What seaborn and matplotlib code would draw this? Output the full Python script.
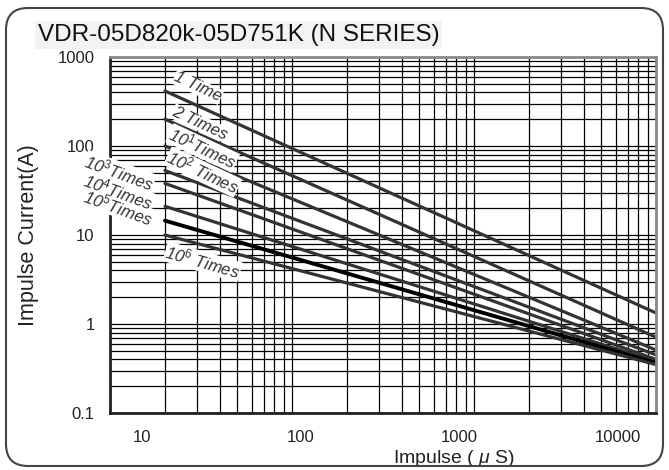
import matplotlib
matplotlib.use("Agg")
import matplotlib.pyplot as plt
import matplotlib.ticker as mticker
from matplotlib.patches import FancyBboxPatch
from matplotlib.transforms import IdentityTransform
import numpy as np
import pandas as pd
import seaborn as sns

# data (straight lines on log-log)
series = ["1 Time", "2 Times", "10^1 Times", "10^2 Times",
          "10^3 Times", "10^4 Times", "10^5 Times", "10^6 Times"]
impulse_start = 14
impulse_end = 17500
current_start = [415, 200, 100, 53, 38, 21, 14.5, 10]
current_end = [1.33, 0.71, 0.51, 0.45, 0.40, 0.38, 0.365, 0.35]

label_text = ["1 Time", "2 Times", r"10$^{1}$Times", r"10$^{2}$ Times",
              r"10$^{3}$Times", r"10$^{4}$Times", r"10$^{5}$Times", r"10$^{6}$ Times"]
label_x = [22.5, 23.2, 24.2, 24.2, 7.2, 7.1, 7.1, 24.2]
label_y = [460, 181, 95, 51, 51, 31, 20.6, 5.0]
label_rot = [-25, -25, -25, -25, -20, -20, -20, -16]

x_ticks = [10, 100, 1000, 10000]
y_ticks = [0.1, 1, 10, 100, 1000]
y_ticklabels = ["0.1", "1", "10", "100", "1000"]

rows = []
for name, c0, c1 in zip(series, current_start, current_end):
    rows.append({"series": name, "impulse": impulse_start, "current": c0})
    rows.append({"series": name, "impulse": impulse_end, "current": c1})
df = pd.DataFrame(rows)

sns.set_style("white")
plt.rcParams["font.family"] = ["Liberation Sans", "DejaVu Sans"]
plt.rcParams["mathtext.fontset"] = "custom"
plt.rcParams["mathtext.rm"] = "Liberation Sans"
plt.rcParams["mathtext.it"] = "Liberation Sans:italic"

fig = plt.figure(figsize=(6.69, 4.70), dpi=100)
ax = fig.add_axes([110 / 669, 57 / 470, 546 / 669, 356 / 470])

# the printed grid runs over three decades of its own, independent of the labels
ax_grid = ax.twiny()
ax_grid.set_xscale("log")
ax_grid.set_xlim(1, 1000)
ax_grid.xaxis.set_minor_locator(mticker.LogLocator(base=10, subs=np.arange(2, 10)))
ax_grid.grid(True, which="both", axis="x", color="black", linewidth=0.9)
ax_grid.tick_params(axis="x", which="both", top=False, labeltop=False, length=0)
for s in ax_grid.spines.values():
    s.set_visible(False)

ax.set_zorder(ax_grid.get_zorder() + 1)
ax.patch.set_visible(False)
ax.set_axisbelow(True)

for name in series:
    sub = df[df["series"] == name]
    thick = name == "10^5 Times"
    sns.lineplot(data=sub, x="impulse", y="current", ax=ax,
                 color="black" if thick else "#333333",
                 linewidth=2.8 if thick else 2.3, legend=False)

ax.set_xscale("log")
ax.set_yscale("log")
ax.set_xlim(6.3, impulse_end)
ax.set_ylim(0.1, 1000)
ax.yaxis.set_minor_locator(mticker.LogLocator(base=10, subs=np.arange(2, 10)))
ax.grid(True, which="both", axis="y", color="black", linewidth=0.9)
ax.grid(False, which="both", axis="x")
ax.set_xticks(x_ticks)
ax.set_xticklabels([str(v) for v in x_ticks])
ax.set_yticks(y_ticks)
ax.set_yticklabels(y_ticklabels)
ax.xaxis.set_minor_formatter(mticker.NullFormatter())
ax.yaxis.set_minor_formatter(mticker.NullFormatter())
ax.tick_params(axis="both", which="both", length=0, labelsize=12, colors="#222222")
ax.tick_params(axis="y", pad=11)
ax.tick_params(axis="x", pad=12)
ax.set_xlabel("Impulse ( $\\mu$ S)", fontsize=14, color="#222222")
ax.set_ylabel("Impulse Current(A)", fontsize=15.5, color="#222222")
ax.xaxis.set_label_coords(0.63, -0.098)
ax.yaxis.set_label_coords(-0.13, 0.5)

for side in ["left", "bottom"]:
    ax.spines[side].set_color("#222222")
    ax.spines[side].set_linewidth(2)
for side in ["top", "right"]:
    ax.spines[side].set_color("#8a8a8a")
    ax.spines[side].set_linewidth(2)

# white patches behind the curve labels first, then the labels on top of all of them
for txt, lx, ly, rot in zip(label_text, label_x, label_y, label_rot):
    ax.text(lx, ly, txt, rotation=rot, ha="center", va="center",
            fontsize=12, style="italic", color="white", zorder=3,
            rotation_mode="anchor",
            bbox=dict(facecolor="white", edgecolor="none", pad=0.3))
for txt, lx, ly, rot in zip(label_text, label_x, label_y, label_rot):
    ax.text(lx, ly, txt, rotation=rot, ha="center", va="center",
            fontsize=12, style="italic", color="#333333", zorder=4,
            rotation_mode="anchor")

fig.text(38 / 669, 1 - 35 / 470, "VDR-05D820k-05D751K (N SERIES)",
         fontsize=17.5, ha="left", va="center", color="#111111",
         bbox=dict(facecolor="#f3f3f3", edgecolor="none", pad=2))

frame = FancyBboxPatch((6, 4), 657, 458, boxstyle="round,pad=0,rounding_size=22",
                       transform=IdentityTransform(), facecolor="none",
                       edgecolor="#444444", linewidth=1.5)
fig.patches.append(frame)

fig.savefig("out.png", dpi=100)
